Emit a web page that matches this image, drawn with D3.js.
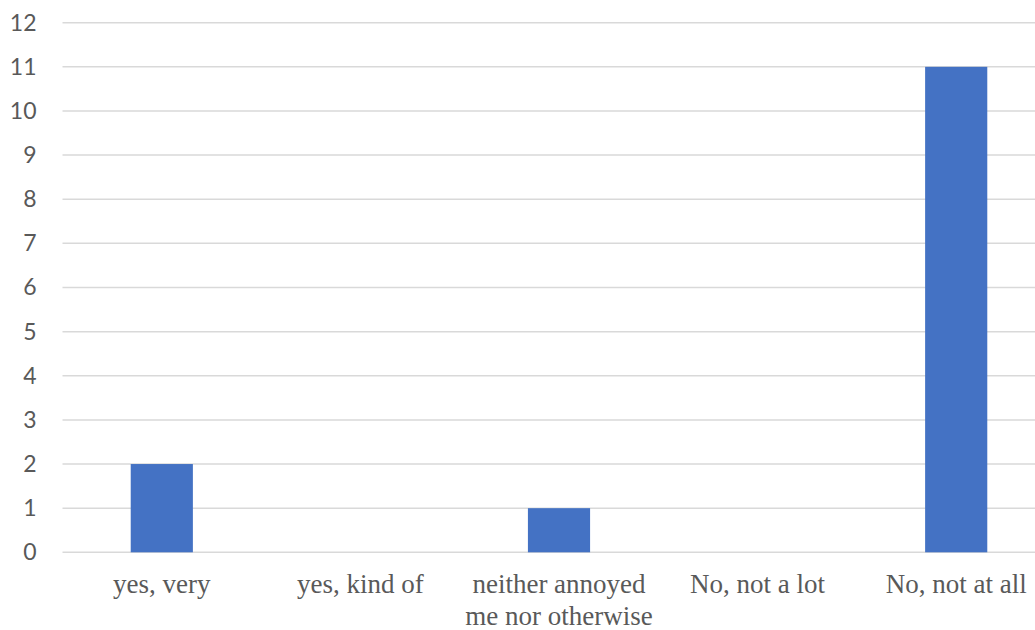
<!DOCTYPE html>
<html>
<head>
<meta charset="utf-8">
<script src="https://cdn.jsdelivr.net/npm/d3@7"></script>
<style>
  html, body { margin: 0; padding: 0; background: #fff; overflow: hidden; }
  svg { display: block; }
</style>
</head>
<body>
<svg id="chart" width="1035" height="630"></svg>
<script>
// Survey responses and their counts
const categories = ["yes, very", "yes, kind of", "neither annoyed me nor otherwise", "No, not a lot", "No, not at all"];
const counts = [2, 0, 1, 0, 11];
const yTicks = [0, 1, 2, 3, 4, 5, 6, 7, 8, 9, 10, 11, 12];

const svg = d3.select("#chart");
const plot = { left: 62.5, right: 1055.5, top: 22.7, bottom: 552.3 };

const x = d3.scaleBand()
  .domain(categories)
  .range([plot.left, plot.right])
  .paddingInner(0.687)
  .paddingOuter(0.3435);

const y = d3.scaleLinear()
  .domain([0, 12])
  .range([plot.bottom, plot.top]);

// Horizontal gridlines
svg.append("g")
  .selectAll("line")
  .data(yTicks)
  .join("line")
  .attr("x1", plot.left)
  .attr("x2", plot.right)
  .attr("y1", d => y(d))
  .attr("y2", d => y(d))
  .attr("stroke", "#d9d9d9")
  .attr("stroke-width", 1.5);

// Y axis labels
const yAxis = d3.axisLeft(y).tickValues(yTicks).tickSize(0).tickPadding(0);
const yg = svg.append("g")
  .attr("transform", `translate(${plot.left - 26},0)`)
  .call(yAxis);
yg.select(".domain").remove();
yg.selectAll("text")
  .attr("font-family", "Lato, 'Open Sans', sans-serif")
  .attr("font-size", 23)
  .attr("fill", "#595959");

// Bars
svg.append("g")
  .selectAll("rect")
  .data(categories.map((c, i) => ({ c, v: counts[i] })))
  .join("rect")
  .attr("x", d => x(d.c))
  .attr("width", x.bandwidth())
  .attr("y", d => y(d.v))
  .attr("height", d => y(0) - y(d.v))
  .attr("fill", "#4472c4");

// Category labels, wrapped to the band width
const xAxis = d3.axisBottom(x).tickSize(0).tickPadding(0);
const xg = svg.append("g")
  .attr("transform", `translate(0,${plot.bottom})`)
  .call(xAxis);
xg.select(".domain").remove();
xg.selectAll("text")
  .attr("font-family", "'Liberation Serif', 'Times New Roman', serif")
  .attr("font-size", 27)
  .attr("fill", "#595959")
  .attr("dy", null)
  .attr("y", 40.5)
  .each(function (d) {
    const text = d3.select(this);
    const maxW = x.step() * 0.95;
    const words = d.split(" ");
    const lines = [];
    let line = [];
    text.text(null);
    const probe = text.append("tspan");
    words.forEach(w => {
      const trial = line.concat(w).join(" ");
      probe.text(trial);
      if (probe.node().getComputedTextLength() > maxW && line.length) {
        lines.push(line.join(" "));
        line = [w];
      } else {
        line.push(w);
      }
    });
    lines.push(line.join(" "));
    probe.remove();
    lines.forEach((l, i) => {
      text.append("tspan")
        .attr("x", 0)
        .attr("dy", i === 0 ? 0 : 32)
        .text(l);
    });
  });
</script>
</body>
</html>
